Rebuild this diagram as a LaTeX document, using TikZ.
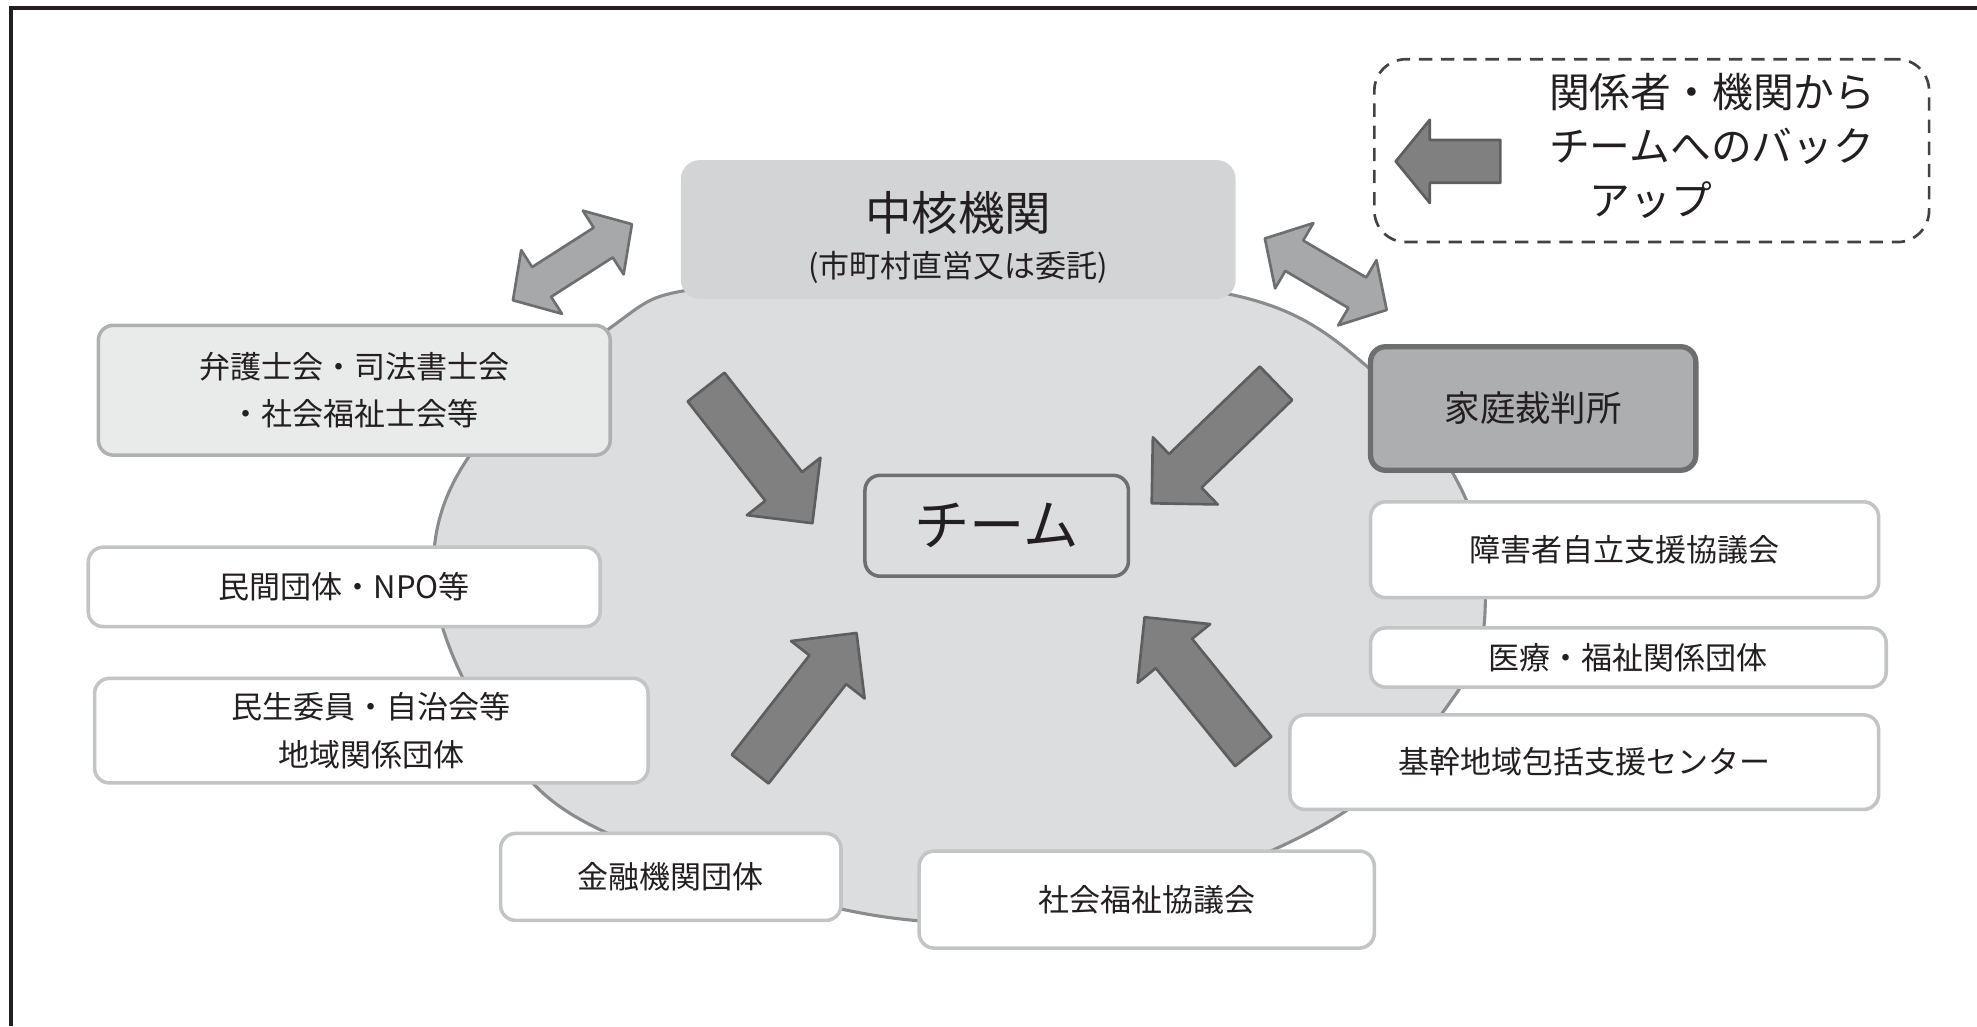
\documentclass[tikz,border=0pt]{standalone}
\usepackage{fontspec}
\setmainfont{Noto Sans CJK JP}
\usepackage{tikz}
\usetikzlibrary{positioning}
\definecolor{ink}{HTML}{231F20}
\definecolor{ringfill}{HTML}{DCDDDF}
\definecolor{ringline}{HTML}{8A8B8D}
\definecolor{corefill}{HTML}{D3D4D6}
\definecolor{boxline}{HTML}{C3C4C6}
\definecolor{barfill}{HTML}{E9EAEA}
\definecolor{courtfill}{HTML}{ADAEB0}
\definecolor{courtline}{HTML}{6D6E70}
\definecolor{arrowfill}{HTML}{808080}
\definecolor{arrowline}{HTML}{5E5E5E}
\definecolor{pairfill}{HTML}{A7A8AA}

\begin{document}
\begin{tikzpicture}[x=0.1mm, y=-0.1mm,
    every node/.style={text=ink, inner sep=0pt},
    orgbox/.style={draw=boxline, fill=white, rounded corners=1.2mm, line width=0.8pt},
    small/.style={font=\fontsize{7}{10.8}\selectfont, align=center},
    fatarrow/.style={fill=arrowfill, draw=arrowline, line width=0.6pt, line join=round},
    pairarrow/.style={fill=pairfill, draw=courtline, line width=0.6pt, line join=round}]
    \useasboundingbox (0,0) rectangle (1568,814);
    \draw[ink, line width=0.9pt] (1568,6) -- (9,6) -- (9,814);

    \filldraw[fill=ringfill, draw=ringline, line width=0.7pt] plot[smooth cycle, tension=0.6] coordinates {
        (760,222) (978,234) (1087,293) (1160,390) (1178,480) (1155,550) (1060,648)
        (880,718) (700,727) (480,660) (395,585) (345,470) (370,365) (484,260) (560,228)};

    \foreach \x/\y/\a in {454/208/32.6, 1051.5/217.5/-30.4}
        \draw[pairarrow, shift={(\x,\y)}, rotate=\a] (-56,0) -- (-29,-30) -- (-29,-14) -- (29,-14)
            -- (29,-30) -- (56,0) -- (29,30) -- (29,14) -- (-29,14) -- (-29,30) -- cycle;

    \node[fill=corefill, rounded corners=1.5mm, minimum width=44mm, minimum height=11mm] (core) at (760,182) {};
    \node[font=\fontsize{10.5}{12}\selectfont] (coretitle) at (760,169) {中核機関};
    \node[font=\fontsize{7}{9}\selectfont] (coresub) at (760,212) {(市町村直営又は委託)};

    \node[draw=ringline!80!black, fill=ringfill, rounded corners=1.2mm, line width=0.8pt,
        minimum width=20.9mm, minimum height=8mm, font=\fontsize{12.5}{14}\selectfont] (team) at (790.5,417) {チーム};

    \node[draw=ink!85, densely dashed, rounded corners=2.5mm, line width=0.6pt,
        minimum width=44mm, minimum height=14.5mm] (backup) at (1310,119.5) {};
    \node[font=\fontsize{9.2}{12.2}\selectfont, align=left, anchor=west] (backuptext) at (1228,116)
        {関係者・機関から\\チームへのバック\\\hspace*{1em}アップ};
    \draw[fatarrow] (1190,111) -- (1134,111) -- (1134,95) -- (1107,128) -- (1134,161) -- (1134,145) -- (1190,145) -- cycle;

    \node[orgbox, fill=barfill, draw=boxline!90!black, minimum width=40.6mm, minimum height=10.3mm, small] (bar) at (281,309.5)
        {弁護士会・司法書士会\\・社会福祉士会等};
    \node[orgbox, minimum width=40.6mm, minimum height=6.3mm, small] (npo) at (273,465.5) {民間団体・NPO等};
    \node[orgbox, minimum width=43.9mm, minimum height=8.3mm, small] (local) at (294.5,579.5) {民生委員・自治会等\\地域関係団体};
    \node[orgbox, minimum width=27mm, minimum height=6.9mm, small] (bank) at (532,695.5) {金融機関団体};
    \node[orgbox, minimum width=36.1mm, minimum height=7.7mm, small] (council) at (909.5,713.5) {社会福祉協議会};
    \node[orgbox, fill=courtfill, draw=courtline, line width=1.2pt, minimum width=25.8mm, minimum height=9.8mm,
        font=\fontsize{8}{10}\selectfont] (court) at (1216,324) {家庭裁判所};
    \node[orgbox, minimum width=40.3mm, minimum height=7.6mm, small] (disab) at (1288.5,436) {障害者自立支援協議会};
    \node[orgbox, minimum width=40.9mm, minimum height=4.7mm, small] (medic) at (1291.5,521.5) {医療・福祉関係団体};
    \node[orgbox, minimum width=46.7mm, minimum height=7.5mm, small] (center) at (1256.5,604.5) {基幹地域包括支援センター};

    \foreach \x/\y/\a in {560/307/-52, 1012/304/-136, 595/610/52, 994/596/129}
        \draw[fatarrow, shift={(\x,\y)}, rotate=\a] (0,-18.5) -- (100,-18.5) -- (100,-37) -- (137,0)
            -- (100,37) -- (100,18.5) -- (0,18.5) -- cycle;
\end{tikzpicture}
\end{document}
